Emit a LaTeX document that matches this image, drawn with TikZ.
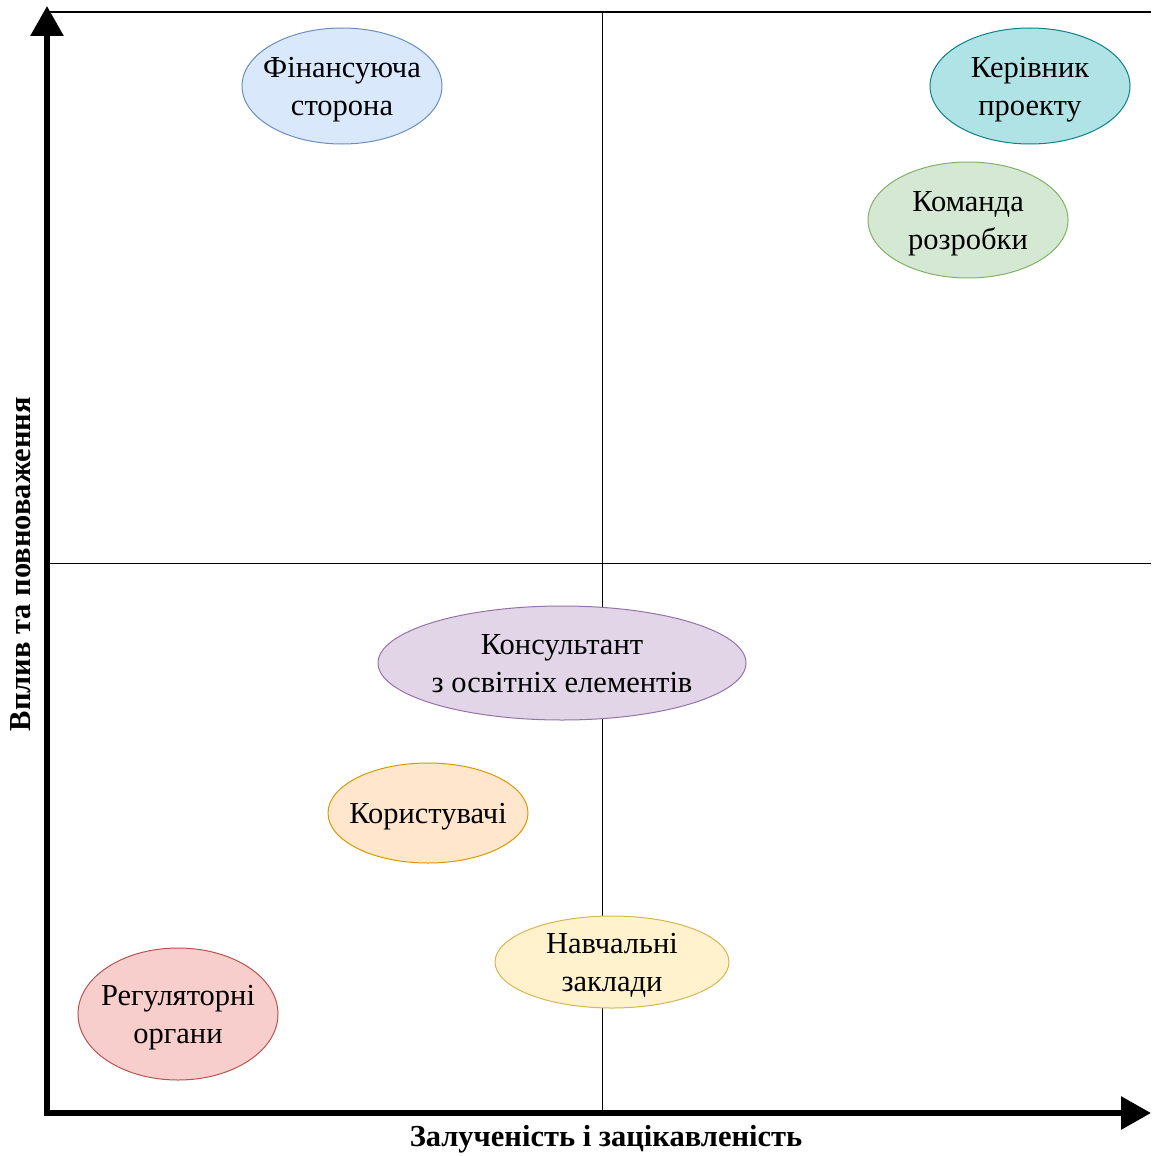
\documentclass[tikz,border=0pt]{standalone}
\usepackage{fontspec}
\setmainfont{Liberation Serif}
\usetikzlibrary{shapes.geometric,arrows.meta}
\definecolor{blueF}{HTML}{DAE8FC}\definecolor{blueD}{HTML}{6C8EBF}
\definecolor{tealF}{HTML}{B0E3E6}\definecolor{tealD}{HTML}{0E8088}
\definecolor{greenF}{HTML}{D5E8D4}\definecolor{greenD}{HTML}{82B366}
\definecolor{purpleF}{HTML}{E1D5E7}\definecolor{purpleD}{HTML}{9673A6}
\definecolor{orangeF}{HTML}{FFE6CC}\definecolor{orangeD}{HTML}{D79B00}
\definecolor{yellowF}{HTML}{FFF2CC}\definecolor{yellowD}{HTML}{D6B656}
\definecolor{redF}{HTML}{F8CECC}\definecolor{redD}{HTML}{B85450}
% centred label with no size of its own, so each ellipse keeps its set size
\newcommand\plabel[1]{\smash{\raisebox{-9.5pt}{\makebox[0pt]{\begin{tabular}{@{}c@{}}#1\end{tabular}}}}}
\tikzset{
  party/.style={ellipse, inner sep=0pt, line width=1pt,
    font=\fontsize{30.5}{38}\selectfont},
  axisline/.style={line width=6pt, -{Triangle[length=30pt,width=32pt]}},
  gridline/.style={line width=1pt, black},
  axislabel/.style={font=\bfseries\fontsize{30.5}{34}\selectfont},
}
\begin{document}
\begin{tikzpicture}[x=1pt,y=1pt]
\useasboundingbox[fill=white] (0,0) rectangle (1151,-1156);
% reference points of the grid
\coordinate (origin) at (47,-1113);
\coordinate (ytip) at (47,-6);
\coordinate (xtip) at (1151,-1113);
\coordinate (topL) at (47,-12);
\coordinate (topR) at (1151,-12);
\coordinate (midT) at (602,-12);
\coordinate (midB) at (602,-1113);
\coordinate (midL) at (47,-563);
\coordinate (midR) at (1151,-563);
% quadrant frame
\draw[gridline, line width=1.5pt] (topL) -- (topR);
\draw[gridline] (midT) -- (midB);
\draw[gridline] (midL) -- (midR);
% axes
\draw[axisline] ([yshift=-3pt]origin) -- (ytip);
\draw[axisline] ([xshift=-3pt]origin) -- (xtip);
% axis labels
\node[axislabel] (xlab) at (606,-1139) {Залученість і зацікавленість};
\node[axislabel, rotate=90] (ylab) at (21,-564) {Вплив та повноваження};
% stakeholders
\node[party, fill=blueF, draw=blueD, minimum width=200, minimum height=116] (fin) at (342,-86) {\plabel{Фінансуюча\\сторона}};
\node[party, fill=tealF, draw=tealD, minimum width=200, minimum height=116] (pm) at (1030,-86) {\plabel{Керівник\\проекту}};
\node[party, fill=greenF, draw=greenD, minimum width=200, minimum height=116] (team) at (968,-220) {\plabel{Команда\\розробки}};
\node[party, fill=purpleF, draw=purpleD, minimum width=368, minimum height=114] (cons) at (562,-663) {\plabel{Консультант\\з освітніх елементів}};
\node[party, fill=orangeF, draw=orangeD, minimum width=200, minimum height=100] (users) at (428,-813) {\plabel{Користувачі}};
\node[party, fill=yellowF, draw=yellowD, minimum width=234, minimum height=92] (edu) at (612,-962) {\plabel{Навчальні\\заклади}};
\node[party, fill=redF, draw=redD, minimum width=200, minimum height=132] (reg) at (178,-1014) {\plabel{Регуляторні\\органи}};
\end{tikzpicture}
\end{document}
